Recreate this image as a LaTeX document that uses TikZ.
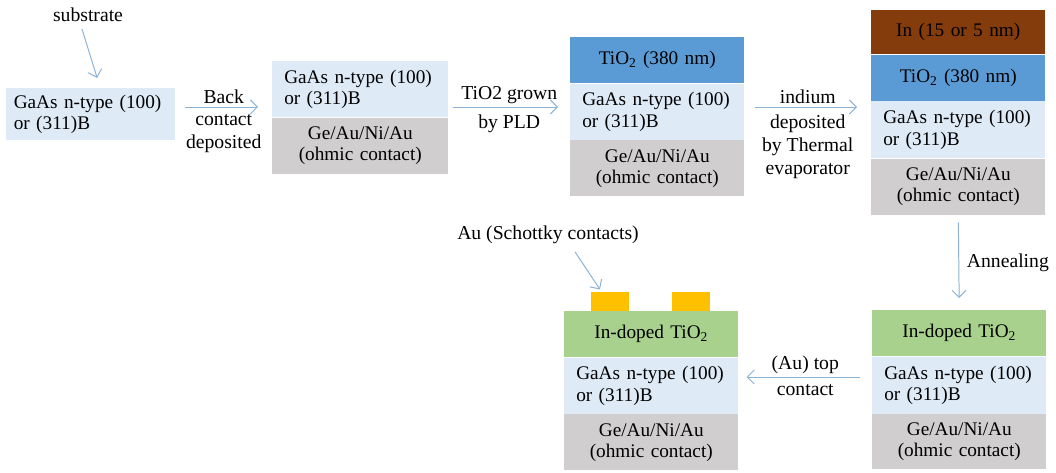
\documentclass[tikz,border=0pt]{standalone}
\usepackage{fontspec}
\setmainfont{Liberation Serif}
\usetikzlibrary{positioning, arrows.meta, calc}

\definecolor{gaasblue}{RGB}{222,235,247}
\definecolor{ohmicgray}{RGB}{208,206,206}
\definecolor{tioblue}{RGB}{91,155,213}
\definecolor{inbrown}{RGB}{132,60,12}
\definecolor{dopedgreen}{RGB}{169,209,142}
\definecolor{aupad}{RGB}{255,192,0}
\definecolor{flowblue}{RGB}{140,178,216}

\tikzset{
  layer/.style={rectangle, inner sep=0pt, minimum width=4.35cm, text width=3.75cm, font=\fontsize{13.7}{15}\selectfont},
  gaas/.style={layer, fill=gaasblue, minimum height=1.4cm, align=left},
  ohmic/.style={layer, fill=ohmicgray, minimum height=1.4cm, align=center},
  tio/.style={layer, fill=tioblue, minimum height=1.15cm, align=center},
  indium/.style={layer, fill=inbrown, minimum height=1.1cm, align=center},
  doped/.style={layer, fill=dopedgreen, minimum height=1.15cm, align=center},
  pad/.style={rectangle, fill=aupad, inner sep=0pt, minimum width=0.95cm, minimum height=0.475cm},
  flow/.style={-{Straight Barb[length=5pt,width=10pt]}, flowblue, line width=0.7pt},
  steplabel/.style={font=\fontsize{14}{16.5}\selectfont, align=center, inner sep=2pt, text=black},
  under/.style={steplabel, below, inner sep=5pt},
}

\begin{document}
\begin{tikzpicture}
    \useasboundingbox (0,0) rectangle (26.4,11.8);

    % Arrow rows
    \coordinate (row) at (0, 9.125);
    \coordinate (rowb) at (0, 2.375);

    % Substrate
    \node[gaas, anchor=north west, minimum width=4.225cm, text width=3.85cm, minimum height=1.3cm] (g1) at (0.15, 9.6) {GaAs n-type (100)\\or (311)B};
    \node[steplabel] (sub) at (2.2, 11.425) {substrate};
    \draw[flow] ([xshift=-0.15cm, yshift=-0.1cm]sub.south) -- ([xshift=0.16cm, yshift=0.25cm]g1.north);

    % Back contact
    \node[gaas, anchor=north west, minimum width=4.4cm, text width=3.8cm] (g2) at (6.8, 10.275) {GaAs n-type (100)\\or (311)B};
    \node[ohmic, below=0pt of g2, minimum width=4.4cm, text width=3.8cm] (o2) {Ge/Au/Ni/Au\\(ohmic contact)};

    % TiO2 layer
    \node[tio, anchor=north west] (t3) at (14.25, 10.875) {TiO\textsubscript{2} (380 nm)};
    \node[gaas, below=0pt of t3] (g3) {GaAs n-type (100)\\or (311)B};
    \node[ohmic, below=0pt of g3] (o3) {Ge/Au/Ni/Au\\(ohmic contact)};

    % Indium layer
    \node[indium, anchor=north west] (i4) at (21.775, 11.55) {In (15 or 5 nm)};
    \node[tio, below=0pt of i4] (t4) {TiO\textsubscript{2} (380 nm)};
    \node[gaas, below=0pt of t4, minimum height=1.425cm] (g4) {GaAs n-type (100)\\or (311)B};
    \node[ohmic, below=0pt of g4] (o4) {Ge/Au/Ni/Au\\(ohmic contact)};

    % Annealed
    \node[doped, anchor=north west] (d5) at (21.8, 4.05) {In-doped TiO\textsubscript{2}};
    \node[gaas, below=0pt of d5, minimum height=1.425cm] (g5) {GaAs n-type (100)\\or (311)B};
    \node[ohmic, below=0pt of g5, minimum height=1.375cm] (o5) {Ge/Au/Ni/Au\\(ohmic contact)};

    % Top contacts
    \node[doped, anchor=north west] (d6) at (14.1, 4.025) {In-doped TiO\textsubscript{2}};
    \node[gaas, below=0pt of d6] (g6) {GaAs n-type (100)\\or (311)B};
    \node[ohmic, below=0pt of g6] (o6) {Ge/Au/Ni/Au\\(ohmic contact)};
    \node[pad, above right=0pt and 0.675cm of d6.north west] (p1) {};
    \node[pad, above right=0pt and 2.7cm of d6.north west] (p2) {};
    \node[steplabel] (aulab) at (13.7, 5.925) {Au (Schottky contacts)};
    \draw[flow] ([xshift=0.675cm, yshift=-0.12cm]aulab.south) -- ([xshift=0.225cm, yshift=0.05cm]p1.north west);

    % Process arrows
    \draw[flow, shorten <=0.225cm, shorten >=0.35cm] (g1.east |- row) -- node[steplabel, above] {Back} node[under] {contact\\deposited} (g2.west |- row);
    \draw[flow, shorten <=0.1cm, shorten >=0.3cm] (g2.east |- row) -- node[steplabel, above] {TiO2 grown} node[under] {by PLD} (t3.west |- row);
    \draw[flow, shorten <=0.25cm, shorten >=0.35cm] (g3.east |- row) -- node[steplabel, above] {indium} node[under] {deposited\\by Thermal\\evaporator} (g4.west |- row);
    \draw[flow, shorten <=0.18cm, shorten >=0.3cm] (o4.south) -- node[steplabel, right, xshift=0.12cm] {Annealing} (d5.north);
    \draw[flow, shorten <=0.3cm, shorten >=0.2cm] (g5.west |- rowb) -- node[steplabel, above] {(Au) top} node[under] {contact} (g6.east |- rowb);
\end{tikzpicture}
\end{document}
